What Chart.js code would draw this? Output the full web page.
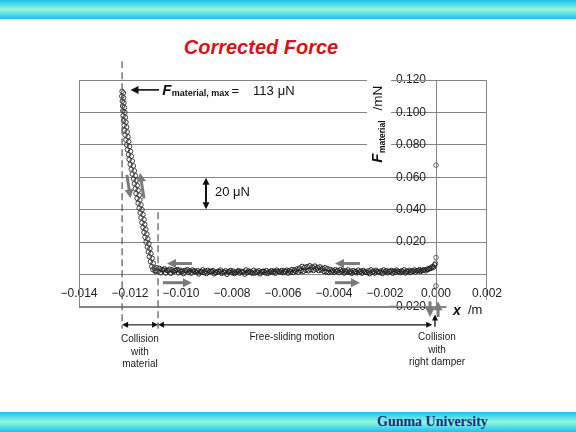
<!DOCTYPE html>
<html>
<head>
<meta charset="utf-8">
<script src="https://cdn.jsdelivr.net/npm/chart.js@4.4.1/dist/chart.umd.min.js"></script>
<style>
	body { margin: 0; background: #fff; width: 576px; height: 432px; overflow: hidden; position: relative; }
	.band { position: absolute; left: 0; width: 576px; background: linear-gradient(to bottom, #1cc0f0 0%, #92f8dc 50%, #1cc0f0 100%); }
	#top-band { top: 0; height: 19px; }
	#bottom-band { top: 412px; height: 20px; }
	#title { position: absolute; left: 0; width: 522px; top: 36px; text-align: center; font: italic bold 20px "Liberation Sans", Arial, sans-serif; color: #d8141a; }
	#footer { position: absolute; left: 377px; top: 414px; font: bold 14px "Liberation Serif", serif; color: #1c2a80; }
	canvas { position: absolute; left: 0; top: 0; }
</style>
</head>
<body>
<div class="band" id="top-band"></div>
<div class="band" id="bottom-band"></div>
<div id="title">Corrected Force</div>
<div id="footer">Gunma University</div>
<canvas id="canvas-element" width="576" height="432"></canvas>
<script>
// x in mm, force in uN (converted to m and mN for the axes)
const kSteepDownX = [-12.31, -12.32, -12.30, -12.29, -12.28, -12.27, -12.25, -12.23, -12.21, -12.19, -12.16, -12.13, -12.10, -12.06, -12.03, -11.99, -11.95, -11.91, -11.86, -11.83, -11.79, -11.76, -11.72, -11.68, -11.64, -11.60, -11.57, -11.53, -11.49, -11.45, -11.41, -11.37, -11.32, -11.28, -11.24, -11.20, -11.15, -11.10];
const kSteepDownY = [113, 110, 107, 104, 101, 98, 95, 92, 89, 86, 83, 80, 77, 74, 71, 68, 65, 62, 59, 56, 53, 50, 47, 44, 41, 38, 35, 32, 29, 26, 23, 20, 17, 14, 11, 8, 5, 3];
const kSteepUpX = [-12.26, -12.25, -12.24, -12.22, -12.20, -12.18, -12.16, -12.13, -12.11, -12.08, -12.05, -12.02, -11.98, -11.95, -11.91, -11.87, -11.83, -11.79, -11.75, -11.72, -11.68, -11.64, -11.61, -11.57, -11.53, -11.49, -11.45, -11.42, -11.38, -11.34, -11.30, -11.26, -11.22, -11.18, -11.13, -11.09, -11.05, -11.01];
const kSteepUpY = [112, 109, 106, 103, 100, 97, 94, 91, 88, 85, 82, 79, 76, 73, 70, 67, 64, 61, 58, 55, 52, 49, 46, 43, 40, 37, 34, 31, 28, 25, 22, 19, 16, 13, 10, 7, 4, 2];

const kFlatOutX = [
	-11.0, -10.9, -10.8, -10.7, -10.6, -10.5, -10.4, -10.3, -10.2, -10.1,
	-10.0, -9.9, -9.8, -9.7, -9.6, -9.5, -9.4, -9.3, -9.2, -9.1,
	-9.0, -8.9, -8.8, -8.7, -8.6, -8.5, -8.4, -8.3, -8.2, -8.1,
	-8.0, -7.9, -7.8, -7.7, -7.6, -7.5, -7.4, -7.3, -7.2, -7.1,
	-7.0, -6.9, -6.8, -6.7, -6.6, -6.5, -6.4, -6.3, -6.2, -6.1,
	-6.0, -5.9, -5.8, -5.7, -5.6, -5.5, -5.4, -5.3, -5.2, -5.1,
	-5.0, -4.9, -4.8, -4.7, -4.6, -4.5, -4.4, -4.3, -4.2, -4.1,
	-4.0, -3.9, -3.8, -3.7, -3.6, -3.5, -3.4, -3.3, -3.2, -3.1,
	-3.0, -2.9, -2.8, -2.7, -2.6, -2.5, -2.4, -2.3, -2.2, -2.1,
	-2.0, -1.9, -1.8, -1.7, -1.6, -1.5, -1.4, -1.3, -1.2, -1.1,
	-1.0, -0.9, -0.8, -0.7, -0.6, -0.5, -0.4, -0.3, -0.2, -0.1];
const kFlatOutY = [
	2.5, 2.0, 1.2, 2.8, 1.0, 2.2, 0.8, 1.9, 2.6, 1.1,
	1.7, 0.6, 2.3, 1.4, 0.9, 2.1, 1.5, 0.4, 1.8, 1.2,
	0.7, 1.6, 2.0, 0.5, 1.3, 1.9, 0.8, 1.4, 0.2, 1.6,
	1.1, 0.6, 1.8, 0.9, 1.5, 0.3, 1.2, 1.7, 0.8, 1.0,
	1.4, 0.5, 1.9, 1.1, 0.7, 1.6, 1.3, 0.9, 2.0, 1.5,
	1.2, 1.8, 0.9, 1.6, 1.3, 2.0, 1.5, 2.3, 2.0, 2.7,
	2.4, 3.0, 2.6, 3.2, 2.5, 2.8, 2.0, 1.7, 1.3, 1.6,
	1.5, 1.9, 1.2, 1.7, 1.0, 1.6, 1.3, 0.8, 1.5, 1.1,
	1.4, 0.9, 1.7, 1.2, 0.6, 1.5, 1.0, 1.8, 1.3, 0.7,
	1.6, 1.1, 1.9, 0.9, 1.4, 2.0, 1.2, 1.7, 1.0, 1.8,
	1.3, 2.1, 1.6, 2.4, 1.9, 2.7, 2.3, 3.2, 3.8, 4.5];

const kFlatBackX = [
	-0.05, -0.15, -0.25, -0.35, -0.45, -0.55, -0.65, -0.75, -0.85, -0.95,
	-1.05, -1.15, -1.25, -1.35, -1.45, -1.55, -1.65, -1.75, -1.85, -1.95,
	-2.05, -2.15, -2.25, -2.35, -2.45, -2.55, -2.65, -2.75, -2.85, -2.95,
	-3.05, -3.15, -3.25, -3.35, -3.45, -3.55, -3.65, -3.75, -3.85, -3.95,
	-4.05, -4.15, -4.25, -4.35, -4.45, -4.55, -4.65, -4.75, -4.85, -4.95,
	-5.05, -5.15, -5.25, -5.35, -5.45, -5.55, -5.65, -5.75, -5.85, -5.95,
	-6.05, -6.15, -6.25, -6.35, -6.45, -6.55, -6.65, -6.75, -6.85, -6.95,
	-7.05, -7.15, -7.25, -7.35, -7.45, -7.55, -7.65, -7.75, -7.85, -7.95,
	-8.05, -8.15, -8.25, -8.35, -8.45, -8.55, -8.65, -8.75, -8.85, -8.95,
	-9.05, -9.15, -9.25, -9.35, -9.45, -9.55, -9.65, -9.75, -9.85, -9.95,
	-10.05, -10.15, -10.25, -10.35, -10.45, -10.55, -10.65, -10.75, -10.85, -10.95];
const kFlatBackY = [
	6.0, 4.8, 3.9, 3.3, 2.9, 2.6, 3.0, 2.4, 2.8, 2.2,
	2.6, 2.0, 2.9, 2.3, 1.8, 2.7, 2.1, 2.5, 1.9, 2.4,
	2.8, 2.2, 1.7, 2.6, 2.0, 2.9, 2.3, 1.6, 2.5, 2.1,
	2.7, 1.9, 2.4, 2.0, 2.8, 2.2, 2.6, 3.0, 2.5, 2.9,
	2.6, 3.1, 3.6, 4.2, 3.8, 4.7, 4.3, 5.2, 4.6, 5.4,
	4.9, 4.4, 5.0, 3.9, 3.4, 2.8, 3.1, 2.4, 2.7, 2.1,
	2.5, 1.9, 2.7, 2.0, 2.4, 1.8, 2.4, 2.1, 1.6, 2.3,
	1.9, 2.6, 1.5, 2.2, 2.8, 1.7, 2.0, 2.4, 1.4, 2.1,
	2.5, 1.8, 2.3, 1.6, 2.7, 2.0, 1.5, 2.4, 1.9, 2.6,
	2.1, 2.9, 1.7, 2.4, 2.0, 2.8, 2.2, 3.0, 2.5, 2.1,
	2.7, 3.1, 2.4, 2.9, 3.3, 2.6, 3.5, 3.0, 3.8, 4.2];

const kDamperX = [0.0, 0.0, -0.02, 0.0];
const kDamperY = [67.5, 10.5, 7.0, -7.0];

const kGridColor = "#858585";
const kFont = "\"Liberation Sans\", Arial, sans-serif";

function toPoints(xs, ys) {
	const points = [];
	for (let i = 0; i < xs.length; ++i) {
		points.push({x: xs[i] / 1000, y: ys[i] / 1000});
	}
	return points;
}

function formatTick(v) {
	const s = (Math.abs(v) < 1e-9 ? 0 : v).toFixed(3);
	return s.replace("-", "\u2212");
}

function drawHead(ctx, x, y, ang, size) {
	const c = Math.cos(ang), s = Math.sin(ang), w = size * 0.5;
	ctx.beginPath();
	ctx.moveTo(x, y);
	ctx.lineTo(x - size * c + w * s, y - size * s - w * c);
	ctx.lineTo(x - size * c - w * s, y - size * s + w * c);
	ctx.closePath();
	ctx.fill();
}

function arrow(ctx, x1, y1, x2, y2, {color, width, head, both = false}) {
	const ang = Math.atan2(y2 - y1, x2 - x1);
	const c = Math.cos(ang), s = Math.sin(ang);
	ctx.strokeStyle = color;
	ctx.fillStyle = color;
	ctx.lineWidth = width;
	ctx.beginPath();
	ctx.moveTo(both ? x1 + c * head * 0.7 : x1, both ? y1 + s * head * 0.7 : y1);
	ctx.lineTo(x2 - c * head * 0.7, y2 - s * head * 0.7);
	ctx.stroke();
	drawHead(ctx, x2, y2, ang, head);
	if (both) {
		drawHead(ctx, x1, y1, ang + Math.PI, head);
	}
}

const annotationPlugin = {
	id: "annotations",
	beforeDatasetsDraw(chart) {
		const {ctx, chartArea: a} = chart;
		ctx.save();
		ctx.strokeStyle = kGridColor;
		ctx.lineWidth = 1;
		ctx.strokeRect(a.left + 0.5, a.top + 0.5, a.width - 1, a.height - 1);
		ctx.restore();
	},
	afterDraw(chart) {
		const {ctx} = chart;
		const px = (v) => chart.scales.x.getPixelForValue(v);
		const py = (v) => chart.scales.y.getPixelForValue(v);
		ctx.save();

		// white boxes behind the axis titles
		ctx.fillStyle = "#fff";
		ctx.fillRect(px(-0.00271), py(0.1235), px(-0.00176) - px(-0.00271), py(0.0644) - py(0.1235));
		ctx.fillRect(px(0.00041), py(-0.0155), px(0.00215) - px(0.00041), py(-0.0290) - py(-0.0155));

		// dashed boundaries of the collision
		ctx.strokeStyle = "#555";
		ctx.lineWidth = 1.2;
		ctx.setLineDash([7, 4]);
		ctx.beginPath();
		ctx.moveTo(px(-0.01231), py(0.1315));
		ctx.lineTo(px(-0.01231), py(-0.0334));
		ctx.moveTo(px(-0.01090), py(0.0385));
		ctx.lineTo(px(-0.01090), py(-0.0334));
		ctx.stroke();
		ctx.setLineDash([]);

		// black dimension arrows
		const black = {color: "#111", width: 1.1, head: 6, both: true};
		arrow(ctx, px(-0.01231), py(-0.0310), px(-0.01090), py(-0.0310), black);
		arrow(ctx, px(-0.01090), py(-0.0310), px(-0.00015), py(-0.0310), black);
		arrow(ctx, px(-0.00004), py(-0.0322), px(-0.00004), py(-0.0246), {color: "#111", width: 1.3, head: 6});
		arrow(ctx, px(-0.01086), py(0.1139), px(-0.01198), py(0.1139), {color: "#111", width: 1.6, head: 8});
		arrow(ctx, px(-0.00902), py(0.0597), px(-0.00902), py(0.0403), {color: "#111", width: 2, head: 7, both: true});

		// grey direction arrows
		const grey = {color: "#7a7a7a", width: 3, head: 9};
		arrow(ctx, px(-0.01212), py(0.0615), px(-0.01198), py(0.0470), grey);
		arrow(ctx, px(-0.01145), py(0.0470), px(-0.01161), py(0.0628), grey);
		arrow(ctx, px(-0.00957), py(0.0068), px(-0.01055), py(0.0068), grey);
		arrow(ctx, px(-0.01071), py(-0.0050), px(-0.00957), py(-0.0050), grey);
		arrow(ctx, px(-0.00298), py(0.0068), px(-0.00396), py(0.0068), grey);
		arrow(ctx, px(-0.00396), py(-0.0050), px(-0.00298), py(-0.0050), grey);
		arrow(ctx, px(-0.000235), py(-0.0165), px(-0.000235), py(-0.0262), grey);
		arrow(ctx, px(0.00008), py(-0.0262), px(0.00008), py(-0.0165), grey);

		// captions below the plot
		ctx.fillStyle = "#222";
		ctx.textAlign = "center";
		ctx.textBaseline = "middle";
		ctx.font = `10px ${kFont}`;
		ctx.fillText("Collision", px(-0.01161), py(-0.0398));
		ctx.fillText("with", px(-0.01161), py(-0.0479));
		ctx.fillText("material", px(-0.01161), py(-0.0554));
		ctx.fillText("Free-sliding motion", px(-0.00565), py(-0.0384));
		ctx.fillText("Collision", px(0.00004), py(-0.0387));
		ctx.fillText("with", px(0.00004), py(-0.0464));
		ctx.fillText("right damper", px(0.00004), py(-0.0541));

		// F_material,max label
		ctx.fillStyle = "#111";
		ctx.textAlign = "left";
		ctx.textBaseline = "alphabetic";
		let x = px(-0.01074);
		const base = py(0.1139) + 5.5;
		ctx.font = `italic bold 15px ${kFont}`;
		ctx.fillText("F", x, base);
		x += ctx.measureText("F").width + 0.5;
		ctx.font = `bold 9px ${kFont}`;
		ctx.fillText("material, max", x, base + 1);
		ctx.font = `13px ${kFont}`;
		ctx.fillText("=", px(-0.00802), base);
		ctx.fillText("113", px(-0.00718), base);
		ctx.fillText("\u03bcN", px(-0.00621), base);

		// 20 uN scale
		ctx.textBaseline = "middle";
		ctx.fillText("20 \u03bcN", px(-0.00867), py(0.0505));

		// x axis title
		ctx.font = `italic bold 14px ${kFont}`;
		ctx.fillText("x", px(0.00067), py(-0.0223));
		ctx.font = `13px ${kFont}`;
		ctx.fillText("/m", px(0.00125), py(-0.0223));

		// y axis title, rotated
		ctx.translate(px(-0.00212), py(0.0690));
		ctx.rotate(-Math.PI / 2);
		ctx.textBaseline = "alphabetic";
		let t = 0;
		ctx.font = `italic bold 15px ${kFont}`;
		ctx.fillText("F", t, 0);
		t += ctx.measureText("F").width + 0.5;
		ctx.font = `bold 8.5px ${kFont}`;
		ctx.fillText("material", t, 3);
		t += ctx.measureText("material").width + 10;
		ctx.font = `13.5px ${kFont}`;
		ctx.fillText("/mN", t, 0);

		ctx.restore();
	}
};

function renderChart() {
	const context = document.getElementById("canvas-element").getContext("2d");
	const pointStyle = {
		showLine: false,
		pointRadius: 2.3,
		pointBorderWidth: 1,
		pointBackgroundColor: "rgba(255,255,255,0)",
		pointBorderColor: "#222"
	};

	return new Chart(context, {
		type: "scatter",
		data: {
			datasets: [
				{label: "steep down", data: toPoints(kSteepDownX, kSteepDownY), ...pointStyle, pointBorderColor: "#3c3c3c"},
				{label: "steep up", data: toPoints(kSteepUpX, kSteepUpY), ...pointStyle, pointBorderColor: "#3c3c3c"},
				{label: "flat out", data: toPoints(kFlatOutX, kFlatOutY), ...pointStyle},
				{label: "flat back", data: toPoints(kFlatBackX, kFlatBackY), ...pointStyle},
				{label: "damper", data: toPoints(kDamperX, kDamperY), ...pointStyle, pointBorderColor: "#666"}
			]
		},
		options: {
			responsive: false,
			animation: false,
			layout: {
				padding: {left: 79, right: 89, top: 80, bottom: 125}
			},
			plugins: {
				legend: {display: false},
				tooltip: {enabled: false}
			},
			scales: {
				x: {
					type: "linear",
					min: -0.014,
					max: 0.002,
					position: {y: 0},
					grid: {display: false, drawTicks: false},
					border: {display: false},
					ticks: {
						stepSize: 0.002,
						padding: 12,
						color: "#222",
						font: {family: kFont, size: 12},
						callback: (v) => formatTick(v)
					}
				},
				y: {
					type: "linear",
					min: -0.02,
					max: 0.12,
					position: {x: 0},
					grid: {color: kGridColor, lineWidth: 1, drawTicks: false},
					border: {display: true, color: kGridColor, width: 1},
					ticks: {
						stepSize: 0.02,
						color: "#222",
						font: {family: kFont, size: 12},
						// labels sit against the axis line; trailing spaces keep a gap
						callback: (v) => Math.abs(v) < 1e-9 ? "" : formatTick(v) + "   "
					}
				}
			}
		},
		plugins: [annotationPlugin]
	});
}

renderChart();
</script>
</body>
</html>
